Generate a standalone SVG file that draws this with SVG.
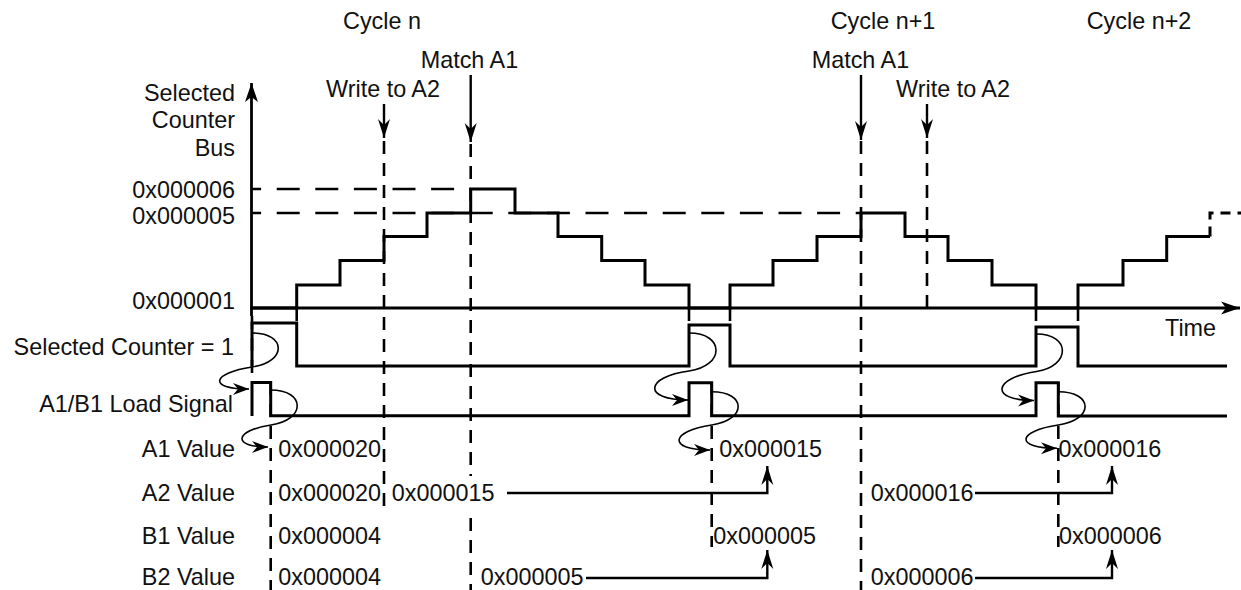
<svg xmlns="http://www.w3.org/2000/svg" width="1241" height="590" viewBox="0 0 1241 590">
<style>
text{font-family:"Liberation Sans",Arial,Helvetica,sans-serif;font-size:23.4px;fill:#111}
.e{text-anchor:end}
.sig{fill:none;stroke:#000;stroke-width:3;stroke-linejoin:miter}
.ax{fill:none;stroke:#000;stroke-width:2.8}
.gv{fill:none;stroke:#000;stroke-width:2.6;stroke-dasharray:13 9}
.gh{fill:none;stroke:#000;stroke-width:2.6;stroke-dasharray:23 15.6;stroke-dashoffset:13.9}
.cu{fill:none;stroke:#000;stroke-width:1.6}
.ra{fill:none;stroke:#000;stroke-width:2.4}
</style>
<defs>
<marker id="ah" markerUnits="userSpaceOnUse" markerWidth="24" markerHeight="16" viewBox="-20 -8 22 16" refX="0" refY="0" orient="auto">
<path d="M0,0 L-19,-6.5 L-14,0 L-19,6.5 Z" fill="#000"/>
</marker>
<marker id="ac" markerUnits="userSpaceOnUse" markerWidth="20" markerHeight="14" viewBox="-18 -7 20 14" refX="0" refY="0" orient="auto">
<path d="M0,0 L-16,-6 L-11,0 L-16,6 Z" fill="#000"/>
</marker>
<marker id="au" markerUnits="userSpaceOnUse" markerWidth="22" markerHeight="14" viewBox="-20 -7 22 14" refX="0" refY="0" orient="auto">
<path d="M0,0 L-19,-6 L-13,0 L-19,6 Z" fill="#000"/>
</marker>
</defs>

<g id="labels-top">
<text x="343" y="29">Cycle n</text>
<text x="830.7" y="29">Cycle n+1</text>
<text x="1086.7" y="29">Cycle n+2</text>
<text x="420.7" y="68">Match A1</text>
<text x="811.7" y="68">Match A1</text>
<text x="326" y="97">Write to A2</text>
<text x="896" y="97">Write to A2</text>
</g>

<g id="labels-left">
<text class="e" x="235" y="100.5">Selected</text>
<text class="e" x="235" y="128">Counter</text>
<text class="e" x="235" y="156">Bus</text>
<text class="e" x="235" y="198">0x000006</text>
<text class="e" x="235" y="224">0x000005</text>
<text class="e" x="235" y="309">0x000001</text>
<text class="e" x="234" y="355">Selected Counter = 1</text>
<text class="e" x="233" y="412">A1/B1 Load Signal</text>
<text class="e" x="235" y="456.7">A1 Value</text>
<text class="e" x="235" y="501.4">A2 Value</text>
<text class="e" x="235" y="544">B1 Value</text>
<text class="e" x="235" y="585">B2 Value</text>
<text x="1165" y="336">Time</text>
</g>

<g id="guides">
<line class="gh" x1="252" y1="189" x2="470.7" y2="189"/>
<line class="gh" x1="252" y1="213" x2="861" y2="213"/>
<line class="gv" x1="252" y1="316" x2="252" y2="382"/>
<line class="gv" x1="296.7" y1="308" x2="296.7" y2="323"/>
<line class="gv" x1="270.7" y1="382" x2="270.7" y2="590"/>
<line class="gv" x1="384" y1="141" x2="384" y2="506"/>
<line class="gv" x1="470.7" y1="144" x2="470.7" y2="590"/>
<line class="gv" x1="689" y1="308" x2="689" y2="325"/>
<line class="gv" x1="730" y1="308" x2="730" y2="325"/>
<line class="gv" x1="711.7" y1="382" x2="711.7" y2="547"/>
<line class="gv" x1="861" y1="141" x2="861" y2="590"/>
<line class="gv" x1="927" y1="141" x2="927" y2="308"/>
<line class="gv" x1="1036" y1="308" x2="1036" y2="327"/>
<line class="gv" x1="1078" y1="308" x2="1078" y2="327"/>
<line class="gv" x1="1058.3" y1="382" x2="1058.3" y2="547"/>
</g>

<g id="axes">
<line class="ax" x1="251.5" y1="316" x2="251.5" y2="83" marker-end="url(#ah)"/>
<line class="ax" x1="250" y1="308" x2="1240" y2="308" marker-end="url(#ah)"/>
</g>

<g id="counter-bus">
<path class="sig" d="M252,308 H296.7 V285 H340 V260.5 H384 V236.5 H427 V213 H470.7 V189 H515 V213 H558 V236.5 H601.7 V260.5 H645 V285 H689 V308 H730 V285 H773 V260.5 H817 V236.5 H861 V213 H905 V236.5 H948 V260.5 H992 V285 H1036 V308 H1078 V285 H1123 V260.5 H1166.7 V236.5 H1210"/>
<path class="sig" d="M1210,236.5 V213 H1241" stroke-dasharray="10 7"/>
</g>

<g id="signal-selected">
<path class="sig" d="M252,366 V323 H296.7 V366 H689 V325 H730 V366 H1036 V327 H1078 V366 H1227"/>
</g>

<g id="signal-load">
<path class="sig" d="M252,416 V382.5 H270.7 V415.7 H689 V382.7 H711.7 V415.7 H1036 V382.7 H1058.3 V416 H1227"/>
</g>

<g id="events">
<line class="ra" x1="384" y1="104" x2="384" y2="138" marker-end="url(#au)"/>
<line class="ra" x1="470.7" y1="75" x2="470.7" y2="142" marker-end="url(#au)"/>
<line class="ra" x1="861" y1="75" x2="861" y2="140" marker-end="url(#au)"/>
<line class="ra" x1="927" y1="104" x2="927" y2="138" marker-end="url(#au)"/>
</g>

<g id="values">
<rect x="389" y="476" width="109" height="33" fill="#fff"/>
<text x="278.3" y="456.7">0x000020</text>
<text x="719.3" y="456.7">0x000015</text>
<text x="1058.5" y="456.7">0x000016</text>
<text x="278.3" y="501.4">0x000020</text>
<text x="391.7" y="501.4">0x000015</text>
<text x="870.7" y="501.4">0x000016</text>
<text x="278.3" y="544">0x000004</text>
<text x="713.3" y="544">0x000005</text>
<text x="1059" y="544">0x000006</text>
<text x="278.3" y="585">0x000004</text>
<text x="480.7" y="585">0x000005</text>
<text x="870.7" y="585">0x000006</text>
</g>

<g id="connectors">
<path class="cu" d="M252,333 C287,333 287,362 252,367 C212,373 207,389 249,389" marker-end="url(#ac)"/>
<path class="cu" d="M270.7,390 C306,390 306,420 271,425 C236,430 230,447 268,447" marker-end="url(#ac)"/>
<path class="cu" d="M689,333 C725,333 725,366 689,371 C645,377 642,400 688,400" marker-end="url(#ac)"/>
<path class="cu" d="M711.7,391.7 C747,391.7 747,420 711.7,425 C670,431 667,450 710,450" marker-end="url(#ac)"/>
<path class="cu" d="M1036.5,334 C1071,334 1071,366 1036.5,371.5 C993,378 989,400.5 1034,400.5" marker-end="url(#ac)"/>
<path class="cu" d="M1058.3,391.7 C1094,391.7 1094,420 1058.3,425 C1017,431 1014,448.3 1057,448.3" marker-end="url(#ac)"/>
<path class="ra" d="M507,493 H767.3 V466" marker-end="url(#au)"/>
<path class="ra" d="M975,493 H1112 V466" marker-end="url(#au)"/>
<path class="ra" d="M586,578 H767.3 V550" marker-end="url(#au)"/>
<path class="ra" d="M975,578 H1112 V550" marker-end="url(#au)"/>
</g>
</svg>
